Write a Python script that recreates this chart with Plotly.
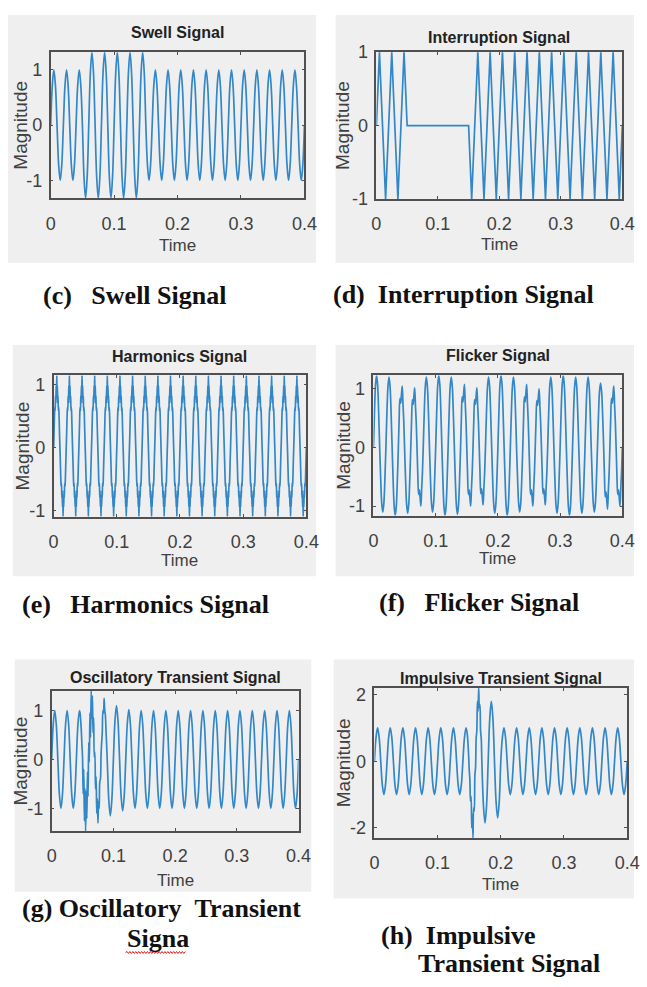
import numpy as np
import plotly.graph_objects as go

W, H = 647, 987

# ---------------- data ----------------
TIME_TICKS = [0, 0.1, 0.2, 0.3, 0.4]
TIME_LABELS = ["0", "0.1", "0.2", "0.3", "0.4"]
HALF = 0.01  # duration of one half-cycle (50 Hz supply)

# relative shape of one smooth half-cycle (points inside the half-cycle)
SINE_SHAPE = [0.71, 1.0, 0.71]

# signed peak of every half-cycle (40 half-cycles in 0.4 s)
swell_amp = [1, -1, 1, -1, 1] + [-1.32, 1.32] * 5 + [-1, 1] * 12 + [-1]
interrupt_amp = [1, -1, 1, -1, 1] + [0] * 10 + [-1, 1] * 12 + [-1]

# harmonic-distorted half-cycles (fine ripple around the crest)
HARM_POS = [0.17, 0.36, 0.55, 0.64, 0.58, 0.82, 0.70, 0.98, 0.84, 1.14,
            0.84, 0.98, 0.70, 0.82, 0.58, 0.64, 0.55, 0.36, 0.17]
HARM_NEG = [-0.17, -0.35, -0.53, -0.62, -0.56, -0.79, -0.68, -0.94, -0.81, -1.09,
            -0.81, -0.94, -0.68, -0.79, -0.56, -0.62, -0.53, -0.35, -0.17]

# flicker: crest of every half-cycle, and whether it shows a notch
flicker_amp = [1.23, -1.10, 1.20, -1.16, 1.05, -1.12, 1.02, -1.00, 1.20, -1.10,
               1.23, -1.16, 1.20, -1.14, 1.08, -1.00, 1.02, -0.98, 1.20, -1.12,
               1.23, -1.16, 1.20, -1.10, 1.08, -1.00, 1.00, -0.98, 1.20, -1.12,
               1.23, -1.16, 1.20, -1.12, 1.20, -1.10, 1.10, -1.05, 1.05, -1.00]
FLICK_SMOOTH = [0.5, 0.87, 1.0, 0.87, 0.5]
FLICK_NOTCH = [0.45, 0.80, 0.72, 0.86, 1.0, 0.70, 0.42]

# oscillatory transient
osc_amp = [1, -1, 1, -1, 1, -1.46, 1.4, -1.3, 1.25, -1.15, 1.1, -1.05, 1.02] + [-1, 1] * 13 + [-1]
osc_detail_t = [0.046, 0.047, 0.048, 0.049, 0.050, 0.051, 0.052, 0.053, 0.054, 0.055,
                0.056, 0.057, 0.058, 0.059, 0.060, 0.061, 0.062, 0.063, 0.064, 0.065,
                0.066, 0.067, 0.068, 0.069, 0.070, 0.071, 0.072, 0.073, 0.074, 0.075,
                0.076, 0.077, 0.078, 0.079, 0.080, 0.081, 0.082, 0.083, 0.084, 0.085,
                0.086, 0.087, 0.088, 0.089, 0.090]
osc_detail_v = [0.95, 0.80, 0.60, 0.30, 0.05, -0.70, -0.20, -1.25, -0.60, -1.46,
                -0.65, -1.20, -0.25, -0.75, 0.35, -0.05, 0.95, 0.45, 1.40, 0.85,
                1.30, 0.55, 0.85, 0.05, 0.15, -0.60, -0.35, -1.10, -0.80, -1.30,
                -0.85, -1.00, -0.45, -0.40, 0.10, 0.35, 0.55, 1.00, 0.95, 1.25,
                1.00, 0.90, 0.60, 0.30, 0.00]

# impulsive transient
imp_amp = [1, -1] * 7 + [1, -2.3, 2.2, -1.85, 1.8, -1.7] + [1, -1] * 10
imp_detail_t = [0.147, 0.148, 0.149, 0.150, 0.151, 0.152, 0.153, 0.154, 0.155, 0.156,
                0.157, 0.158, 0.159, 0.160, 0.161, 0.162, 0.163, 0.164, 0.165, 0.166,
                0.167, 0.168, 0.169, 0.170]
imp_detail_v = [0.80, 0.55, 0.20, -0.25, -0.55, -1.20, -1.05, -2.00, -1.60, -2.30,
                -1.40, -1.50, -0.40, -0.20, 0.70, 0.90, 1.80, 1.50, 2.20, 1.60,
                1.70, 0.90, 0.70, 0.00]


def build(halves, detail_t=None, detail_v=None):
    t, v = [0.0], [0.0]
    for k, shape in enumerate(halves):
        n = len(shape)
        for i, s in enumerate(shape):
            t.append(HALF * k + HALF * (i + 1) / (n + 1))
            v.append(s)
        t.append(HALF * (k + 1))
        v.append(0.0)
    if detail_t:
        lo, hi = detail_t[0], detail_t[-1]
        pts = [(a, b) for a, b in zip(t, v) if a < lo - 1e-9 or a > hi + 1e-9]
        pts += list(zip(detail_t, detail_v))
        pts.sort()
        t, v = [p[0] for p in pts], [p[1] for p in pts]
    return t, v


def scaled(amps, shape=SINE_SHAPE):
    return [[a * s for s in shape] for a in amps]


sw_t, sw_v = build(scaled(swell_amp))
in_t, in_v = build([[a] for a in interrupt_amp])
ha_t, ha_v = build([HARM_POS, HARM_NEG] * 20)
fl_t, fl_v = build([[a * s for s in (FLICK_NOTCH if abs(a) <= 1.08 else FLICK_SMOOTH)] for a in flicker_amp])
os_t, os_v = build(scaled(osc_amp), osc_detail_t, osc_detail_v)
im_t, im_v = build(scaled(imp_amp), imp_detail_t, imp_detail_v)

panels = [
    dict(title="Swell Signal", t=sw_t, v=sw_v, shape="spline", yr=[-1.32, 1.32], yt=[-1, 0, 1],
         ax=(47, 308, 43, 192), bg=(3, 320, 5, 258), ty=23, tdy=48, mdx=-31),
    dict(title="Interruption Signal", t=in_t, v=in_v, shape="linear", yr=[-1, 1], yt=[-1, 0, 1],
         ax=(382, 635, 43, 193), bg=(340, 647, 5, 258), ty=28, tdy=46, mdx=-35),
    dict(title="Harmonics Signal", t=ha_t, v=ha_v, shape="spline", yr=[-1.09, 1.14], yt=[-1, 0, 1],
         ax=(50, 310, 373, 517), bg=(8, 320, 342, 578), ty=354, tdy=45, mdx=-32),
    dict(title="Flicker Signal", t=fl_t, v=fl_v, shape="spline", yr=[-1.16, 1.23], yt=[-1, 0, 1],
         ax=(379, 635, 373, 516), bg=(340, 647, 342, 578), ty=353, tdy=44, mdx=-31),
    dict(title="Oscillatory Transient Signal", t=os_t, v=os_v, shape="spline", yr=[-1.46, 1.4], yt=[-1, 0, 1],
         ax=(48, 302, 695, 838), bg=(10, 315, 663, 900), ty=681, tdy=50, mdx=-32),
    dict(title="Impulsive Transient Signal", t=im_t, v=im_v, shape="spline", yr=[-2.3, 2.2], yt=[-2, 0, 2],
         ax=(380, 640, 692, 845), bg=(338, 647, 663, 907), ty=682, tdy=48, mdx=-31),
]

captions = [
    ("(c)&nbsp;&nbsp;&nbsp;Swell Signal", 37, 291),
    ("(d)&nbsp;&nbsp;Interruption Signal", 335, 290),
    ("(e)&nbsp;&nbsp;&nbsp;Harmonics Signal", 15, 607),
    ("(f)&nbsp;&nbsp;&nbsp;Flicker Signal", 383, 605),
    ("(g) Oscillatory&nbsp;&nbsp;Transient", 15, 917),
    ("Signa", 123, 948),
    ("(h)&nbsp;&nbsp;Impulsive", 385, 945),
    ("Transient Signal", 423, 973),
]

SANS = "Liberation Sans, Arial"
SERIF = "Liberation Serif, Times New Roman, serif"
LINE = "#3287c9"
AXC = "#505050"
TXT = "#404040"

fig = go.Figure()
shapes, annos = [], []


def px(x):
    return x / W


def py(y):
    return 1 - y / H


for i, p in enumerate(panels):
    n = "" if i == 0 else str(i + 1)
    x0, x1, y0, y1 = p["ax"]
    b0, b1, c0, c1 = p["bg"]
    shapes.append(dict(type="rect", xref="paper", yref="paper", x0=px(b0), x1=px(b1),
                       y0=py(c1), y1=py(c0), fillcolor="#efefef", line=dict(width=0), layer="below"))
    fig.add_trace(go.Scatter(x=p["t"], y=p["v"], mode="lines", xaxis="x" + n, yaxis="y" + n,
                             line=dict(color=LINE, width=1.7, shape=p["shape"], smoothing=1.0),
                             showlegend=False, hoverinfo="skip"))
    common = dict(showline=True, linecolor=AXC, linewidth=1.6, mirror="ticks", ticks="inside",
                  ticklen=3, tickcolor=AXC, tickwidth=1, showgrid=False, zeroline=False,
                  tickfont=dict(family=SANS, size=18, color=TXT))
    fig.update_layout(**{
        "xaxis" + n: dict(domain=[px(x0), px(x1)], anchor="y" + n, range=[0, 0.4],
                          tickvals=TIME_TICKS, ticktext=TIME_LABELS, ticklabelstandoff=8, **common),
        "yaxis" + n: dict(domain=[py(y1), py(y0)], anchor="x" + n, range=p["yr"],
                          tickvals=p["yt"], ticktext=[str(v) for v in p["yt"]], ticklabelstandoff=3, **common),
    })
    cx = (x0 + x1) / 2
    annos.append(dict(text="<b>" + p["title"] + "</b>", x=px(cx), y=py(p["ty"]), xref="paper", yref="paper",
                      showarrow=False, xanchor="center", yanchor="middle",
                      font=dict(family=SANS, size=16, color="#222222")))
    annos.append(dict(text="Time", x=px(cx), y=py(y1 + p["tdy"]), xref="paper", yref="paper",
                      showarrow=False, xanchor="center", yanchor="middle",
                      font=dict(family=SANS, size=17, color=TXT)))
    annos.append(dict(text="Magnitude", x=px(x0 + p["mdx"]), y=py((y0 + y1) / 2), xref="paper", yref="paper",
                      showarrow=False, xanchor="center", yanchor="middle", textangle=-90,
                      font=dict(family=SANS, size=19, color=TXT)))

for text, x, y in captions:
    annos.append(dict(text="<b>" + text + "</b>", x=px(x), y=py(y), xref="paper", yref="paper",
                      showarrow=False, xanchor="left", yanchor="middle",
                      font=dict(family=SERIF, size=26, color="#111111")))

# red spell-check squiggle under "Signa"
path = "M %f,%f" % (px(124), py(962))
xx, up = 124.0, True
while xx < 185:
    xx += 1.5
    path += " L %f,%f" % (px(xx), py(961 if up else 963))
    up = not up
shapes.append(dict(type="path", xref="paper", yref="paper", path=path,
                   line=dict(color="#d62020", width=1)))

fig.update_layout(width=W, height=H, margin=dict(l=0, r=0, t=0, b=0),
                  paper_bgcolor="white", plot_bgcolor="white",
                  shapes=shapes, annotations=annos)

fig.write_html("out.html", config={"displayModeBar": False},
               post_script="document.body.style.margin='0';document.body.style.overflow='hidden';")
